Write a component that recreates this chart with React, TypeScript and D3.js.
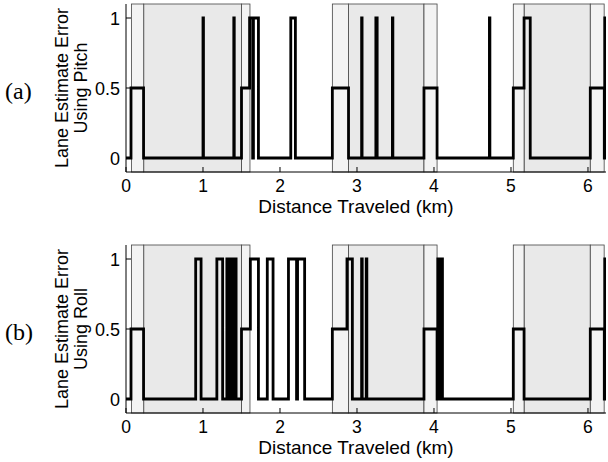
import React from 'react';
import * as d3 from 'd3';

const xTicks = [0, 1, 2, 3, 4, 5, 6];
const yTicks = [0, 0.5, 1];
const yTickLabels = ['0', '0.5', '1'];
const xLabel = 'Distance Traveled (km)';
const yLabelMain = 'Lane Estimate Error';

// shaded zones (km)
const transitionZones: [number, number][] = [
  [0.07, 0.23], [1.5, 1.61], [2.68, 2.89], [3.87, 4.04], [5.03, 5.17], [6.03, 6.21],
];
const segmentZones: [number, number][] = [
  [0.23, 1.5], [2.89, 3.87], [5.17, 6.03],
];

// step-change points: value holds from x until next x
const pitchX = [0, 0.065, 0.228, 1.0, 1.006, 1.4, 1.406, 1.5, 1.605, 1.645, 1.655, 1.72, 2.14, 2.2,
  2.68, 2.89, 3.06, 3.066, 3.245, 3.262, 3.46, 3.466, 3.87, 4.04, 4.72, 4.726, 5.03, 5.17, 5.25,
  6.03, 6.212, 6.218, 6.226];
const pitchY = [0, 0.5, 0, 1, 0, 1, 0, 0.5, 1, 0, 1, 0, 1, 0,
  0.5, 0, 1, 0, 1, 0, 1, 0, 0.5, 0, 1, 0, 0.5, 1, 0,
  0.5, 0, 1, 0];

const rollX = [0, 0.065, 0.228, 0.905, 0.975, 1.18, 1.255, 1.31, 1.335, 1.345, 1.365, 1.375, 1.395,
  1.405, 1.43, 1.5, 1.615, 1.72, 1.835, 1.91, 2.11, 2.215, 2.228, 2.32, 2.68, 2.87, 2.94, 3.06, 3.068,
  3.12, 3.128, 3.87, 4.04, 4.05, 4.06, 4.065, 4.075, 4.08, 4.09, 4.095, 4.11, 5.03, 5.17, 6.03,
  6.212, 6.218, 6.226];
const rollY = [0, 0.5, 0, 1, 0, 1, 0, 1, 0, 1, 0, 1, 0,
  1, 0, 0.5, 1, 0, 1, 0, 1, 0, 1, 0, 0.5, 1, 0, 1, 0,
  1, 0, 0.5, 0, 1, 0, 1, 0, 1, 0, 1, 0, 0.5, 0, 0.5,
  0, 1, 0];

const X_MAX = 6.234;
const LEFT = 126;
const RIGHT = 606;

interface PanelProps {
  top: number;
  bottom: number;
  xs: number[];
  ys: number[];
  sub: string;
  letter: string;
  id: string;
}

function Panel({ top, bottom, xs, ys, sub, letter, id }: PanelProps) {
  const x = d3.scaleLinear().domain([0, X_MAX]).range([LEFT, RIGHT]);
  const y = d3.scaleLinear().domain([-0.1, 1.1]).range([bottom, top]);
  const pts: [number, number][] = xs.map((v, i) => [v, ys[i]]);
  pts.push([X_MAX + 0.05, ys[ys.length - 1]]);
  const line = d3.line<[number, number]>()
    .x(d => x(d[0]))
    .y(d => y(d[1]))
    .curve(d3.curveStepAfter);
  const mid = (top + bottom) / 2;
  const font = '"Liberation Sans", Arial, Helvetica, sans-serif';
  return (
    <g>
      <defs>
        <clipPath id={id}>
          <rect x={LEFT} y={top - 3} width={RIGHT - LEFT} height={bottom - top + 6} />
        </clipPath>
      </defs>
      {segmentZones.map(([a, b], i) => (
        <rect key={'s' + i} x={x(a)} y={top} width={x(b) - x(a)} height={bottom - top}
          fill="#e9e9e9" stroke="#444" strokeWidth={0.8} />
      ))}
      {transitionZones.map(([a, b], i) => (
        <rect key={'t' + i} x={x(a)} y={top} width={x(b) - x(a)} height={bottom - top}
          fill="#f3f3f3" stroke="#444" strokeWidth={0.8} />
      ))}
      {/* axes */}
      <line x1={LEFT} x2={LEFT} y1={top} y2={bottom} stroke="#000" strokeWidth={1} />
      <line x1={LEFT} x2={RIGHT} y1={bottom} y2={bottom} stroke="#000" strokeWidth={1} />
      {xTicks.map(t => (
        <g key={'xt' + t}>
          <line x1={x(t)} x2={x(t)} y1={bottom} y2={bottom - 5} stroke="#000" strokeWidth={1} />
          <text x={x(t)} y={bottom + 20} textAnchor="middle" fontFamily={font} fontSize={17.5}>{t}</text>
        </g>
      ))}
      {yTicks.map((t, i) => (
        <g key={'yt' + t}>
          <line x1={LEFT} x2={LEFT + 5} y1={y(t)} y2={y(t)} stroke="#000" strokeWidth={1} />
          <text x={120} y={y(t) + 6.5} textAnchor="end" fontFamily={font} fontSize={18}>{yTickLabels[i]}</text>
        </g>
      ))}
      <path d={line(pts) || ''} fill="none" stroke="#000" strokeWidth={2.8}
        strokeLinejoin="miter" clipPath={`url(#${id})`} />
      <text x={356} y={bottom + 41} textAnchor="middle" fontFamily={font} fontSize={19}>{xLabel}</text>
      <text transform={`translate(68,${mid}) rotate(-90)`} textAnchor="middle" fontFamily={font} fontSize={18}>{yLabelMain}</text>
      <text transform={`translate(87,${mid}) rotate(-90)`} textAnchor="middle" fontFamily={font} fontSize={18}>{sub}</text>
      <text x={5} y={mid + 11} fontFamily='"Liberation Serif", "Times New Roman", serif' fontSize={24}>{letter}</text>
    </g>
  );
}

export default function App() {
  return (
    <svg width={608} height={462} style={{ position: 'absolute', left: 0, top: 0, background: '#fff' }}>
      <rect x={0} y={0} width={608} height={462} fill="#fff" />
      <Panel top={4} bottom={172} xs={pitchX} ys={pitchY} sub="Using Pitch" letter="(a)" id="clipA" />
      <Panel top={245} bottom={413} xs={rollX} ys={rollY} sub="Using Roll" letter="(b)" id="clipB" />
    </svg>
  );
}
